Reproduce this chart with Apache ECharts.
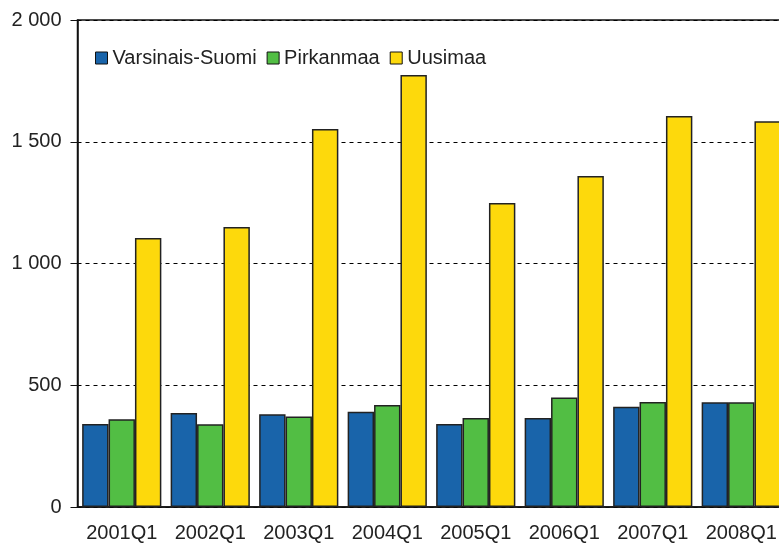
<!DOCTYPE html>
<html lang="fi">
<head>
  <meta charset="UTF-8">
  <title>Kvartaalit</title>
  <style>
    html, body { margin: 0; padding: 0; background: #fff; }
  </style>
</head>
<body>
  <div id="main" style="width: 779px;height:549px;"></div>

  <script src="https://cdn.jsdelivr.net/npm/echarts@6/dist/echarts.min.js"></script>
  <script>
    // data
    const quarters = ['2001Q1', '2002Q1', '2003Q1', '2004Q1', '2005Q1', '2006Q1', '2007Q1', '2008Q1'];
    const varsinaisSuomi = [341, 386, 381, 391, 341, 365, 412, 430];
    const pirkanmaa = [360, 340, 372, 419, 365, 450, 431, 430];
    const uusimaa = [1105, 1150, 1552, 1774, 1248, 1359, 1606, 1584];

    const seriesNames = ['Varsinais-Suomi', 'Pirkanmaa', 'Uusimaa'];
    const seriesData = [varsinaisSuomi, pirkanmaa, uusimaa];
    const colors = ['#1964aa', '#52be44', '#fdd90c'];

    const font = 'Liberation Sans, Arial, sans-serif';

    const myChart = echarts.init(document.getElementById('main'));

    const options = {
      animation: false,
      backgroundColor: '#fff',
      textStyle: { fontFamily: font },
      grid: {
        left: 77.5,
        top: 20,
        height: 487,
        width: 708,       // last category runs off the right edge like in the original
        outerBoundsMode: 'none',
        containLabel: false,
        show: true,
        borderColor: '#111',
        borderWidth: 1.5,
        backgroundColor: 'transparent'
      },
      legend: {
        left: 90,
        top: 43,
        itemWidth: 12,
        itemHeight: 12,
        itemGap: 10,
        icon: 'rect',
        itemStyle: { borderColor: '#111', borderWidth: 1 },
        textStyle: { fontSize: 20, color: '#222', fontFamily: font },
        data: seriesNames
      },
      xAxis: {
        type: 'category',
        data: quarters,
        axisLine: { lineStyle: { color: '#111', width: 1.5 } },
        axisTick: { length: 7, interval: 0, lineStyle: { color: '#111' } },
        axisLabel: { fontSize: 20, color: '#222', margin: 16, interval: 0 }
      },
      yAxis: {
        type: 'value',
        min: 0,
        max: 2000,
        interval: 500,
        axisLine: { show: true, lineStyle: { color: '#111', width: 1.5 } },
        axisTick: { show: true, length: 7, lineStyle: { color: '#111' } },
        axisLabel: {
          fontSize: 20,
          color: '#222',
          margin: 16,
          formatter: v => String(v).replace(/\B(?=(\d{3})+(?!\d))/g, ' ')
        },
        splitLine: {
          lineStyle: { color: '#000', type: [4, 4], width: 1 }
        }
      },
      series: seriesNames.map((name, i) => ({
        name: name,
        type: 'bar',
        data: seriesData[i],
        barGap: '0%',
        barCategoryGap: '10.5%',
        itemStyle: {
          color: colors[i],
          borderColor: '#222',
          borderWidth: 1.5
        }
      }))
    };

    myChart.setOption(options);
  </script>
</body>
</html>
